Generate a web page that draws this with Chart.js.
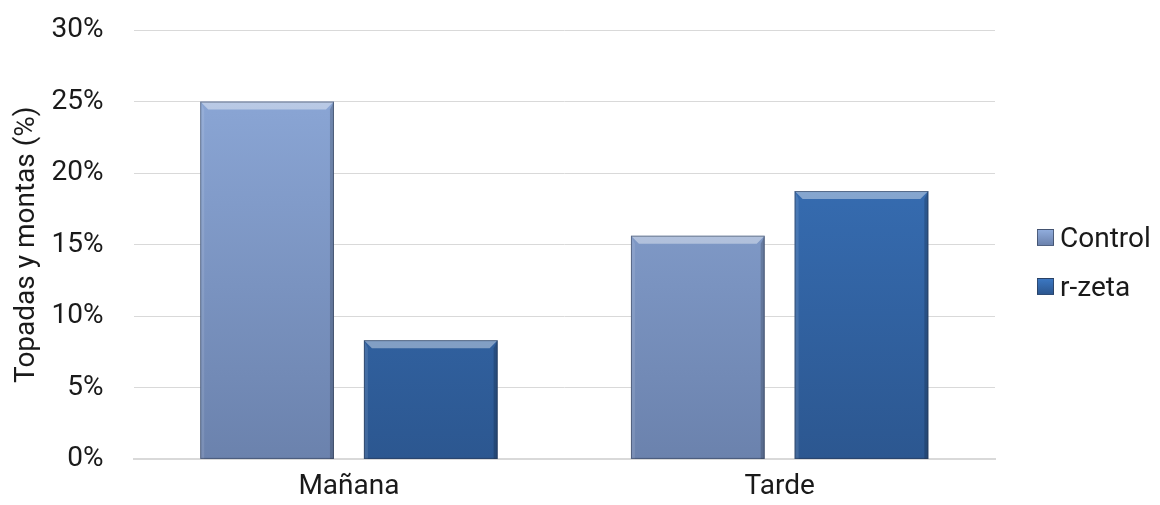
<!DOCTYPE html>
<html>
<head>
<meta charset="utf-8">
<script src="https://cdn.jsdelivr.net/npm/chart.js@4"></script>
<style>
  html, body { margin: 0; padding: 0; background: #fff; }
  #wrap { position: relative; width: 1160px; height: 505px; }
  #legend { position: absolute; left: 1037px; top: 221px; font-family: Roboto, "Noto Sans", sans-serif; font-size: 28px; color: #1a1a1a; }
  #legend .item { display: flex; align-items: center; height: 33px; margin-bottom: 16px; }
  #legend .box { width: 17px; height: 17px; margin-right: 6px; box-sizing: border-box; border: 1px solid rgba(40,50,70,0.6); }
</style>
</head>
<body>
<div id="wrap"><canvas id="barChart"></canvas><div id="legend"></div></div>
<script>
const categories = ['Mañana', 'Tarde'];
const controlValues = [25, 15.63];
const rzetaValues = [8.33, 18.75];
const seriesNames = ['Control', 'r-zeta'];

// top / bottom colours of each series gradient
const controlColors = ['#90acdc', '#6b82ad'];
const rzetaColors = ['#3b77c2', '#2c5790'];

function gradientFill(colors) {
  return (ctx) => {
    const area = ctx.chart.chartArea;
    if (!area) return colors[0];
    const g = ctx.chart.ctx.createLinearGradient(0, area.top, 0, area.bottom);
    g.addColorStop(0, colors[0]);
    g.addColorStop(1, colors[1]);
    return g;
  };
}

// light bevel on top of each bar, shadow on the right side
const bevelPlugin = {
  id: 'bevel',
  afterDatasetsDraw(chart) {
    const c = chart.ctx;
    chart.data.datasets.forEach((ds, i) => {
      chart.getDatasetMeta(i).data.forEach((bar) => {
        const left = bar.x - bar.width / 2;
        const right = bar.x + bar.width / 2;
        const top = bar.y;
        const bottom = bar.base;
        const b = 8;
        c.save();
        c.fillStyle = 'rgba(255,255,255,0.4)';
        c.beginPath();
        c.moveTo(left, top);
        c.lineTo(right, top);
        c.lineTo(right - b, top + b);
        c.lineTo(left + b, top + b);
        c.closePath();
        c.fill();
        c.fillStyle = 'rgba(255,255,255,0.1)';
        c.beginPath();
        c.moveTo(left, top);
        c.lineTo(left + b / 2, top + b);
        c.lineTo(left + b / 2, bottom);
        c.lineTo(left, bottom);
        c.closePath();
        c.fill();
        c.fillStyle = 'rgba(0,0,0,0.18)';
        c.beginPath();
        c.moveTo(right, top);
        c.lineTo(right - b / 2, top + b);
        c.lineTo(right - b / 2, bottom);
        c.lineTo(right, bottom);
        c.closePath();
        c.fill();
        c.strokeStyle = 'rgba(40,50,70,0.5)';
        c.lineWidth = 1;
        c.strokeRect(left + 0.5, top + 0.5, bar.width - 1, bottom - top - 1);
        c.restore();
      });
    });
  }
};

const barData = {
  labels: categories,
  datasets: [
    {
      label: seriesNames[0],
      data: controlValues,
      backgroundColor: gradientFill(controlColors),
      borderWidth: 0
    },
    {
      label: seriesNames[1],
      data: rzetaValues,
      backgroundColor: gradientFill(rzetaColors),
      borderWidth: 0
    }
  ]
};

Chart.defaults.font.family = 'Roboto, "Noto Sans", sans-serif';
Chart.defaults.color = '#1a1a1a';

const barConfig = {
  type: 'bar',
  data: barData,
  plugins: [bevelPlugin],
  options: {
    responsive: true,
    maintainAspectRatio: false,
    animation: false,
    layout: { padding: { top: 0, right: 165, bottom: -2, left: 10 } },
    categoryPercentage: 0.76,
    barPercentage: 0.817,
    plugins: {
      tooltip: { enabled: false },
      legend: { display: false }
    },
    scales: {
      x: {
        grid: { display: false },
        border: { display: true, color: '#d9d9d9', width: 2 },
        ticks: { font: { size: 28 }, color: '#1a1a1a', padding: 3 }
      },
      y: {
        min: 0,
        max: 30,
        afterFit: (scale) => {
          scale.width -= 22;
          scale.paddingTop = 30;
          scale.paddingBottom = 0;
        },
        ticks: {
          stepSize: 5,
          font: { size: 28 },
          color: '#1a1a1a',
          padding: 30,
          callback: (v) => v + '%'
        },
        grid: { color: '#d9d9d9', drawTicks: false },
        border: { display: false },
        title: {
          display: true,
          text: 'Topadas y montas (%)',
          font: { size: 28 },
          color: '#1a1a1a',
          padding: 0
        }
      }
    }
  }
};

const myBarChart = new Chart(document.getElementById('barChart'), barConfig);

// legend built from the dataset labels
const legendColors = [controlColors, rzetaColors];
const legendEl = document.getElementById('legend');
barData.datasets.forEach((ds, i) => {
  const item = document.createElement('div');
  item.className = 'item';
  const box = document.createElement('span');
  box.className = 'box';
  box.style.background = 'linear-gradient(' + legendColors[i][0] + ', ' + legendColors[i][1] + ')';
  const txt = document.createElement('span');
  txt.textContent = ds.label;
  item.appendChild(box);
  item.appendChild(txt);
  legendEl.appendChild(item);
});
</script>
</body>
</html>
